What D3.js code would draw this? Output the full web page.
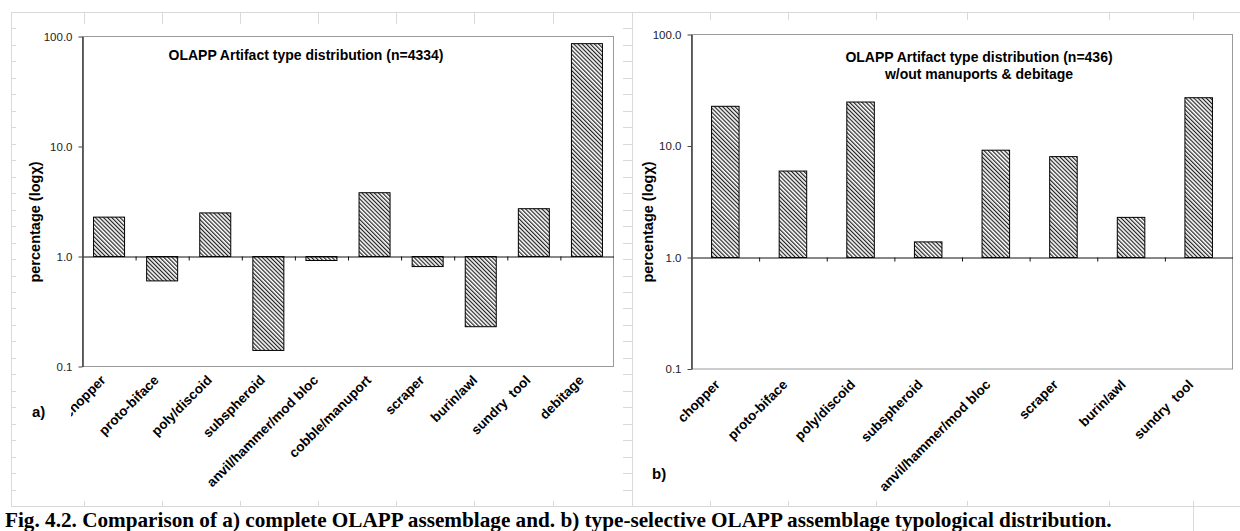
<!DOCTYPE html>
<html>
<head>
<meta charset="utf-8">
<script src="https://cdn.jsdelivr.net/npm/d3@7"></script>
<style>
  html, body { margin: 0; padding: 0; background: #fff; }
  svg { display: block; }
</style>
</head>
<body>
<svg id="chart" width="1240" height="531"></svg>
<script>
// ---------------- DATA ----------------
const categoriesA = ["chopper", "proto-biface", "poly/discoid", "subspheroid", "anvil/hammer/mod bloc",
  "cobble/manuport", "scraper", "burin/awl", "sundry  tool", "debitage"];
const percentA = [2.28, 0.60, 2.49, 0.14, 0.92, 3.8, 0.81, 0.23, 2.72, 86.1];

const categoriesB = ["chopper", "proto-biface", "poly/discoid", "subspheroid", "anvil/hammer/mod bloc",
  "scraper", "burin/awl", "sundry  tool"];
const percentB = [22.7, 5.96, 24.8, 1.38, 9.17, 8.03, 2.29, 27.1];

const yTickValues = [0.1, 1, 10, 100];
const titleA = ["OLAPP Artifact type distribution (n=4334)"];
const titleB = ["OLAPP Artifact type distribution (n=436)", "w/out manuports & debitage"];
const yAxisTitle = "percentage (logχ)";
const caption = "Fig. 4.2. Comparison of a) complete OLAPP assemblage and. b) type-selective OLAPP assemblage typological distribution.";

// ---------------- DRAW ----------------
const SANS = "'Liberation Sans', Arial, sans-serif";
const SERIF = "'Liberation Serif', 'Times New Roman', serif";
const svg = d3.select("#chart").style("font-family", SANS);
const gridColor = "#d9d9d9";

// spreadsheet grid in the background
const grid = svg.append("g");
const rowTop = 12, rowH = 16.47, nRows = 30;
const gridCols = [11, 84, 162, 240, 318, 396, 474, 553, 632, 710, 788, 876, 967, 1109, 1193];
grid.selectAll("line.h").data(d3.range(nRows + 1)).join("line")
  .attr("x1", 11).attr("x2", 1240)
  .attr("y1", k => Math.round(rowTop + k * rowH) + 0.5)
  .attr("y2", k => Math.round(rowTop + k * rowH) + 0.5)
  .attr("stroke", gridColor);
grid.selectAll("line.v").data(gridCols).join("line")
  .attr("x1", d => d + 0.5).attr("x2", d => d + 0.5)
  .attr("y1", rowTop).attr("y2", d => d === 1193 ? 531 : 506)
  .attr("stroke", gridColor);
// white chart objects / caption box covering grid
svg.append("rect").attr("x", 16).attr("y", 24).attr("width", 607).attr("height", 477).attr("fill", "#fff");
svg.append("rect").attr("x", 633).attr("y", 20).attr("width", 607).attr("height", 481).attr("fill", "#fff");
svg.append("rect").attr("x", 0).attr("y", 507).attr("width", 1192).attr("height", 24).attr("fill", "#fff");

// hatch pattern
const defs = svg.append("defs");
defs.append("pattern").attr("id", "hatch")
  .attr("patternUnits", "userSpaceOnUse")
  .attr("width", 2.9).attr("height", 2.9)
  .attr("patternTransform", "rotate(-45)")
  .call(p => {
    p.append("rect").attr("width", 2.9).attr("height", 2.9).attr("fill", "#fff");
    p.append("line").attr("x1", 0.6).attr("y1", -1).attr("x2", 0.6).attr("y2", 4)
      .attr("stroke", "#222").attr("stroke-width", 1.2);
  });

function drawPanel(cfg) {
  const g = svg.append("g");
  const { left, right, top, bottom } = cfg;
  const x = d3.scaleBand().domain(cfg.cats).range([left, right])
    .paddingInner(cfg.pad).paddingOuter(cfg.pad / 2);
  const y = d3.scaleLog().domain([0.1, 100]).range([bottom, top]);
  const xLin = d3.scaleLinear().domain([0, cfg.cats.length]).range([left, right]);

  // plot frame
  g.append("rect").attr("x", left + 0.5).attr("y", top + 0.5)
    .attr("width", right - left).attr("height", bottom - top)
    .attr("fill", "none").attr("stroke", "#9a9a9a").attr("stroke-width", 1);

  // bars from 1.0 baseline
  g.selectAll("rect.bar").data(cfg.vals).join("rect")
    .attr("x", (d, i) => x(cfg.cats[i]) + 0.5)
    .attr("width", x.bandwidth())
    .attr("y", d => Math.min(y(d), y(1)) + 0.5)
    .attr("height", d => Math.abs(y(d) - y(1)))
    .attr("fill", "url(#hatch)")
    .attr("stroke", "#000").attr("stroke-width", 1);

  // x axis line at 1.0 with boundary ticks
  const xa = g.append("g").attr("transform", `translate(0.5,${y(1) + 0.5})`)
    .call(d3.axisBottom(xLin).tickValues(d3.range(1, cfg.cats.length)).tickFormat("").tickSize(4).tickSizeOuter(0));
  xa.select(".domain").attr("stroke", "#111");
  xa.selectAll(".tick line").attr("stroke", "#111");

  // y axis
  const ya = g.append("g").attr("transform", `translate(${left + 0.5},0.5)`)
    .call(d3.axisLeft(y).tickValues(yTickValues).tickFormat(d3.format(".1f")).tickSize(4).tickSizeOuter(0).tickPadding(6));
  ya.select(".domain").attr("stroke", "#444").attr("stroke-width", 1.6);
  ya.selectAll(".tick line").attr("stroke", "#444");
  ya.selectAll(".tick text").attr("font-size", 11.5).attr("fill", "#222")
    .attr("font-family", SANS);

  // category labels
  g.selectAll("text.cat").data(cfg.cats).join("text")
    .attr("transform", d => `translate(${x(d) + x.bandwidth() / 2 + cfg.ldx},${bottom + cfg.ldy}) rotate(-45)`)
    .attr("text-anchor", "end")
    .attr("font-size", 13.5).attr("font-weight", "bold").attr("fill", "#000")
    .style("white-space", "pre")
    .text(d => d);

  // title
  g.selectAll("text.title").data(cfg.title).join("text")
    .attr("x", cfg.titleX).attr("y", (d, i) => cfg.titleY + i * 17)
    .attr("text-anchor", "middle").attr("font-size", 14).attr("font-weight", "bold")
    .text(d => d);

  // y axis title
  g.append("text")
    .attr("transform", `translate(${cfg.ylX},${cfg.ylY}) rotate(-90)`)
    .attr("text-anchor", "middle").attr("dominant-baseline", "central")
    .attr("font-size", 14.5).attr("font-weight", "bold")
    .text(yAxisTitle);

  // panel tag
  if (cfg.mask) {
    g.append("rect").attr("x", cfg.mask[0]).attr("y", cfg.mask[1])
      .attr("width", cfg.mask[2]).attr("height", cfg.mask[3]).attr("fill", "#fff");
  }
  g.append("text").attr("x", cfg.tagX).attr("y", cfg.tagY)
    .attr("font-size", 15).attr("font-weight", "bold").text(cfg.tag);
}

drawPanel({
  cats: categoriesA, vals: percentA, pad: 0.416,
  left: 82, right: 613, top: 36, bottom: 366,
  ldx: -2, ldy: 15,
  title: titleA, titleX: 306, titleY: 60,
  ylX: 35, ylY: 222,
  tag: "a)", tagX: 32, tagY: 417, mask: [18, 385, 53, 55]
});

drawPanel({
  cats: categoriesB, vals: percentB, pad: 0.593,
  left: 691, right: 1232, top: 34, bottom: 368.5,
  ldx: -4, ldy: 17,
  title: titleB, titleX: 979, titleY: 62,
  ylX: 648, ylY: 222,
  tag: "b)", tagX: 652, tagY: 479
});

// caption
const cap = svg.append("text")
  .attr("x", 5).attr("y", 527)
  .style("font-family", SERIF)
  .attr("font-weight", "bold").attr("font-size", 20)
  .text(caption);
const targetW = 1107;
const w = cap.node().getComputedTextLength();
cap.attr("font-size", 20 * targetW / w);
</script>
</body>
</html>
